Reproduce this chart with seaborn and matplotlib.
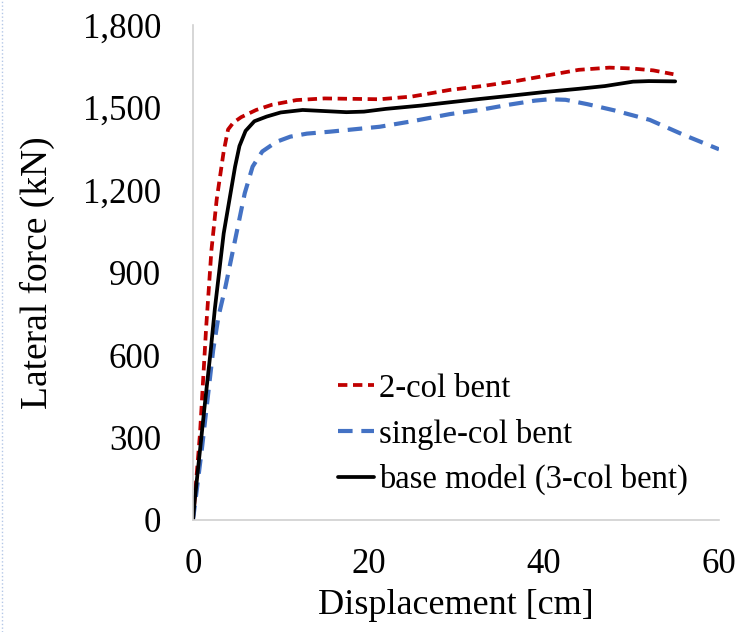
import matplotlib
matplotlib.use("Agg")
import matplotlib.pyplot as plt
import seaborn as sns
from matplotlib.lines import Line2D

# ---- data ----
red_x = [0, 0.8, 1.5, 2.1, 2.7, 3.5, 4.0, 4.6, 5.5, 7.2, 9, 11.8, 15, 21.3, 25, 29.3, 33, 37, 41, 44, 47.5, 50, 52.5, 54.8]
red_y = [0, 315, 700, 980, 1165, 1340, 1420, 1445, 1465, 1491, 1510, 1527, 1533, 1530, 1540, 1564, 1578, 1597, 1620, 1637, 1645, 1642, 1635, 1621]

blue_x = [0, 1.0, 2.3, 2.9, 3.7, 4.8, 5.9, 6.8, 7.9, 9.5, 11.1, 13, 15.6, 21.3, 25, 29.3, 32.7, 36, 39, 40.7, 42.5, 45, 48, 52.1, 56, 60]
blue_y = [0, 255, 618, 739, 848, 1018, 1188, 1285, 1340, 1375, 1394, 1405, 1412, 1430, 1450, 1476, 1491, 1510, 1525, 1530, 1528, 1512, 1490, 1455, 1400, 1348]

black_x = [0, 0.2, 1.4, 2.0, 2.5, 3.5, 4.8, 5.3, 6.0, 7.0, 8.4, 10, 12.5, 15, 17.5, 19.5, 22, 26, 29.3, 32.7, 36, 40, 44, 47, 50.2, 52, 55]
black_y = [0, 73, 436, 610, 770, 1042, 1285, 1360, 1415, 1450, 1467, 1482, 1491, 1487, 1483, 1485, 1495, 1507, 1519, 1531, 1542, 1556, 1568, 1578, 1594, 1596, 1595]

labels = ["2-col bent", "single-col bent", "base model (3-col bent)"]
x_ticks = [0, 20, 40, 60]
y_ticks = [0, 300, 600, 900, 1200, 1500, 1800]
y_tick_labels = ["0", "300", "600", "900", "1,200", "1,500", "1,800"]

sns.set_theme(style="white")
plt.rcParams["font.family"] = ["Liberation Serif", "DejaVu Serif"]

fig = plt.figure(figsize=(7.42, 6.32), dpi=100)
ax = fig.add_axes([193 / 742, 1 - 520 / 632, (719 - 193) / 742, (520 - 25) / 632])

sns.lineplot(x=red_x, y=red_y, ax=ax, color="#C00000", lw=2.7, sort=False, label=labels[0])
ax.lines[-1].set_dashes([2.5, 1.5])
sns.lineplot(x=blue_x, y=blue_y, ax=ax, color="#4472C4", lw=3.0, sort=False, label=labels[1])
ax.lines[-1].set_dashes([3.5, 2.1])
sns.lineplot(x=black_x, y=black_y, ax=ax, color="black", lw=2.7, sort=False, label=labels[2])

ax.set_xlim(0, 60)
ax.set_ylim(0, 1800)
ax.set_xticks(x_ticks)
ax.set_xticklabels([str(v) for v in x_ticks])
ax.set_yticks(y_ticks)
ax.set_yticklabels(y_tick_labels)
ax.tick_params(axis="both", length=0, labelsize=25, colors="black")
ax.tick_params(axis="y", pad=23)
ax.tick_params(axis="x", pad=20)

for s in ["top", "right"]:
    ax.spines[s].set_visible(False)
for s in ["left", "bottom"]:
    ax.spines[s].set_color("#d0d0d0")
    ax.spines[s].set_linewidth(1.2)

ax.set_xlabel("Displacement [cm]", fontsize=26, color="black", labelpad=6)
ax.set_ylabel("Lateral force (kN)", fontsize=27, color="black", labelpad=20)

leg = ax.legend(loc="upper left", bbox_to_anchor=(322 / 742, 1 - 357 / 632),
                bbox_transform=fig.transFigure, frameon=False, fontsize=23.5,
                handlelength=1.1, handletextpad=0.15, labelspacing=0.45, borderpad=0)
for t in leg.get_texts():
    t.set_color("black")

fig.add_artist(Line2D([2 / 742, 2 / 742], [0, 1], transform=fig.transFigure,
                      color="#b4c7e7", lw=1, linestyle=":"))

fig.savefig("out.png", dpi=100)
